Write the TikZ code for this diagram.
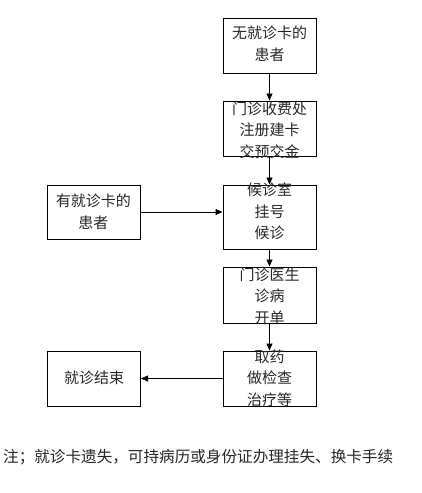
\documentclass[tikz,border=0pt]{standalone}
\usepackage{fontspec}
\newfontfamily\cjk{Noto Sans CJK SC}
\usetikzlibrary{arrows.meta}
\begin{document}
\begin{tikzpicture}[x=1pt,y=-1pt,
  box/.style={draw, line width=1pt, inner sep=0pt, minimum width=93pt},
  txt/.style={font=\cjk\fontsize{15}{21.5}\selectfont, align=center, inner sep=0pt, text=black!85},
  arr/.style={-{Triangle[length=7pt,width=6pt]}, line width=0.8pt}]
\useasboundingbox (0,0) rectangle (422,493);
% boxes
\node[box, minimum height=55pt] (b1) at (269.5,45.5) {};
\node[box, minimum height=55pt] (b2) at (269.5,128.5) {};
\node[box, minimum height=64pt] (b3) at (269.5,217) {};
\node[box, minimum height=54pt] (lb) at (93.5,212) {};
\node[box, minimum height=56pt] (b4) at (269.5,295) {};
\node[box, minimum height=55pt] (b5) at (269.5,378.5) {};
\node[box, minimum height=55pt] (eb) at (94,378.5) {};
% texts
\node[txt] (t1) at (269.5,44) {无就诊卡的\\患者};
\node[txt] (t2) at (269.5,130) {门诊收费处\\注册建卡\\交预交金};
\node[txt] (t3) at (269.5,211.7) {候诊室\\挂号\\候诊};
\node[txt] (tl) at (93.5,211.7) {有就诊卡的\\患者};
\node[txt] (t4) at (269.5,296) {门诊医生\\诊病\\开单};
\node[txt] (t5) at (269.5,378) {取药\\做检查\\治疗等};
\node[txt] (te) at (94,378) {就诊结束};
\node[txt, anchor=west, font=\cjk\fontsize{15.6}{18}\selectfont] (note) at (3,457) {注；就诊卡遗失，可持病历或身份证办理挂失、换卡手续};
% connectors
\draw[arr] (b1.south) -- (b2.north);
\draw[arr] (b2.south) -- (b3.north);
\draw[arr] (lb.east) -- (b3.west |- lb.east);
\draw[arr] (b3.south) -- (b4.north);
\draw[arr] (b4.south) -- (b5.north);
\draw[arr] (b5.west) -- (eb.east);
\end{tikzpicture}
\end{document}
